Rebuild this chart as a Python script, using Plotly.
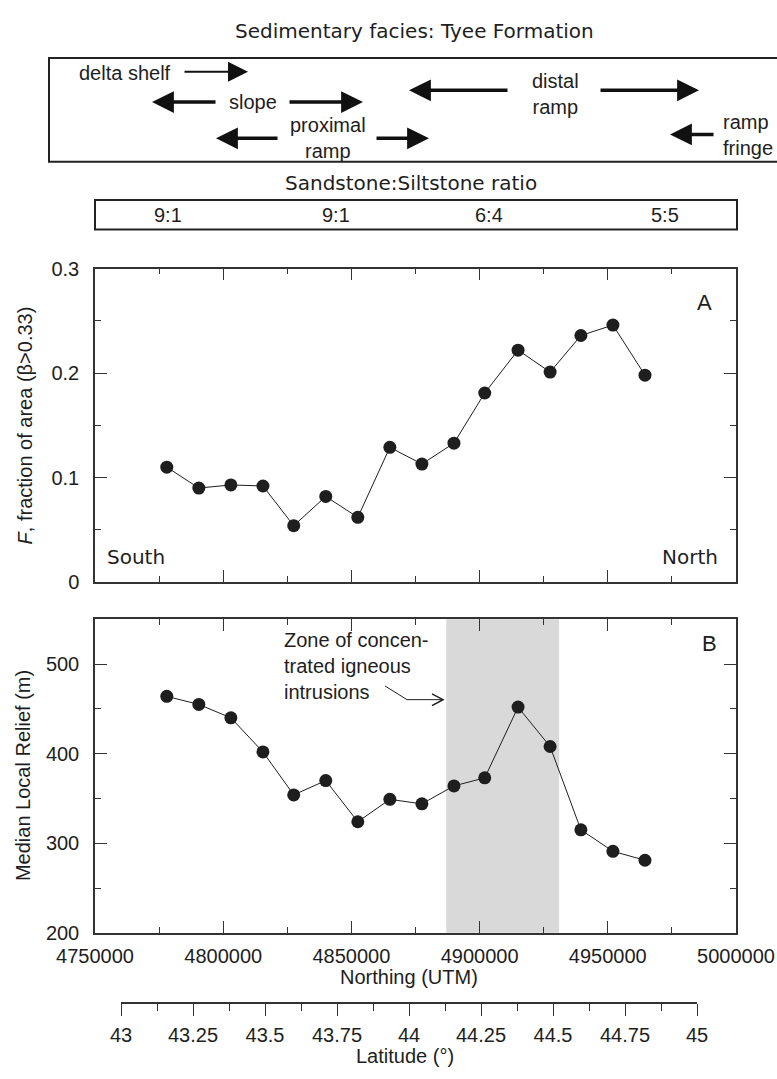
import plotly.graph_objects as go

# ---------------- data ----------------
NORTHING = [4778000, 4790500, 4803000, 4815500, 4827500, 4840000, 4852500, 4865000,
            4877500, 4890000, 4902000, 4915000, 4927500, 4939500, 4952000, 4964500]
F_FRACTION = [0.110, 0.090, 0.093, 0.092, 0.054, 0.082, 0.062, 0.129,
              0.113, 0.133, 0.181, 0.222, 0.201, 0.236, 0.246, 0.198]
RELIEF = [464, 455, 440, 402, 354, 370, 324, 349,
          344, 364, 373, 452, 408, 315, 291, 281]
ZONE = [4887000, 4931000]
X_RANGE = [4750000, 5000000]
X_TICKS = [4750000, 4800000, 4850000, 4900000, 4950000, 5000000]
LAT_RANGE = [43, 45]
LAT_TICKS = [43, 43.25, 43.5, 43.75, 44, 44.25, 44.5, 44.75, 45]
LAT_LABELS = ["43", "43.25", "43.5", "43.75", "44", "44.25", "44.5", "44.75", "45"]
RATIOS = ["9:1", "9:1", "6:4", "5:5"]

W, H = 777, 1079
L, R = 95, 736


def px(x):
    return (x - L) / (R - L)


def py(y):
    return 1 - y / H


FONT = "Liberation Sans, Arial, sans-serif"
WIDE = "DejaVu Sans, sans-serif"
INK = "#1e1e1e"
AX = "#333333"

fig = go.Figure()
fig.add_trace(go.Scatter(x=NORTHING, y=F_FRACTION, mode="lines+markers",
                         line=dict(color=INK, width=1),
                         marker=dict(color=INK, size=13),
                         xaxis="x", yaxis="y", showlegend=False))
fig.add_trace(go.Scatter(x=NORTHING, y=RELIEF, mode="lines+markers",
                         line=dict(color=INK, width=1),
                         marker=dict(color=INK, size=13),
                         xaxis="x2", yaxis="y2", showlegend=False))
fig.add_trace(go.Scatter(x=LAT_RANGE, y=[0, 0], mode="lines", opacity=0,
                         xaxis="x3", yaxis="y3", showlegend=False, hoverinfo="skip"))

common_x = dict(range=X_RANGE, showline=True, linecolor=AX, linewidth=1.5,
                mirror="allticks", ticks="inside", tickcolor=AX, ticklen=12,
                tickwidth=1, tickvals=X_TICKS, tickformat="d", showgrid=False, zeroline=False,
                minor=dict(dtick=25000, ticklen=6, ticks="inside", tickcolor=AX),
                tickfont=dict(family=FONT, size=20, color=INK))
common_y = dict(showline=True, linecolor=AX, linewidth=1.5, mirror="allticks",
                ticks="inside", tickcolor=AX, ticklen=12, tickwidth=1,
                showgrid=False, zeroline=False,
                tickfont=dict(family=FONT, size=20, color=INK), ticklabelstandoff=10)

fig.update_layout(
    width=W, height=H, autosize=False,
    margin=dict(l=L, r=W - R, t=0, b=0),
    paper_bgcolor="white", plot_bgcolor="white",
    xaxis=dict(domain=[0, 1], anchor="y", showticklabels=False, **common_x),
    yaxis=dict(domain=[py(583), py(263)], anchor="x", range=[0, 0.3], dtick=0.1,
               minor=dict(dtick=0.05, ticklen=6, ticks="inside", tickcolor=AX),
               **common_y),
    xaxis2=dict(domain=[0, 1], anchor="y2", showticklabels=True, ticklabelstandoff=4,
                **common_x),
    yaxis2=dict(domain=[py(941), py(621)], anchor="x2", range=[200, 550], dtick=100,
                minor=dict(dtick=50, ticklen=6, ticks="inside", tickcolor=AX),
                **common_y),
    xaxis3=dict(domain=[px(121), px(697)], anchor="y3", range=LAT_RANGE,
                showline=True, linecolor=AX, linewidth=1.5, ticks="outside",
                tickvals=LAT_TICKS, ticktext=LAT_LABELS, ticklen=12, tickcolor=AX,
                minor=dict(dtick=0.125, ticklen=7, ticks="outside", tickcolor=AX),
                showgrid=False, zeroline=False, ticklabelstandoff=2,
                tickfont=dict(family=FONT, size=20, color=INK)),
    yaxis3=dict(domain=[py(1012), py(1011)], anchor="x3", visible=False, range=[0, 1]),
)

shapes = []
# grey zone in panel B
shapes.append(dict(type="rect", xref="x2", yref="y2 domain", x0=ZONE[0], x1=ZONE[1],
                   y0=0, y1=1, fillcolor="#d9d9d9", line=dict(width=0), layer="below"))
# facies box
shapes.append(dict(type="rect", xref="paper", yref="paper", x0=px(49), x1=px(790),
                   y0=py(154), y1=py(48), line=dict(color="#222", width=2)))
# ratio box
shapes.append(dict(type="rect", xref="paper", yref="paper", x0=px(95), x1=px(737),
                   y0=py(223), y1=py(193), line=dict(color="#222", width=2)))
# zone arrow path
shapes.append(dict(type="path", xref="paper", yref="paper",
                   path=f"M {px(385)},{py(689)} L {px(407)},{py(703)} L {px(442)},{py(703)}",
                   line=dict(color=INK, width=1)))
shapes.append(dict(type="path", xref="paper", yref="paper",
                   path=f"M {px(432)},{py(697)} L {px(443)},{py(703)} L {px(432)},{py(709)}",
                   line=dict(color=INK, width=1.5)))
fig.update_layout(shapes=shapes)

ann = []


def text(t, x, y, size=20, family=FONT, xanchor="center", angle=0, align="center"):
    ann.append(dict(text=t, x=px(x), y=py(y), xref="paper", yref="paper",
                    showarrow=False, xanchor=xanchor, yanchor="middle",
                    textangle=angle, align=align,
                    font=dict(family=family, size=size, color=INK)))


def arrow(tail, head, width=3.5, size=1.25):
    ann.append(dict(text="", x=px(head[0]), y=py(head[1]), xref="paper", yref="paper",
                    ax=tail[0] - head[0], ay=tail[1] - head[1], axref="pixel", ayref="pixel",
                    showarrow=True, arrowhead=2, arrowsize=size, arrowwidth=width,
                    arrowcolor="#111", standoff=0, startstandoff=0))


text("Sedimentary facies: Tyee Formation", 414, 20, family=WIDE)
text("delta shelf", 77, 63, xanchor="left")
text("slope", 253, 93)
text("proximal<br>ramp", 328, 130)
text("distal<br>ramp", 555, 85)
text("ramp<br>fringe", 721, 127, xanchor="left", align="left")
arrow((183, 62), (248, 62), width=2, size=2)
arrow((217, 93), (152, 93))
arrow((288, 93), (363, 93))
arrow((279, 130), (216, 130))
arrow((375, 130), (429, 130))
arrow((509, 81), (409, 81))
arrow((599, 81), (699, 81))
arrow((715, 126), (670, 126))

text("Sandstone:Siltstone ratio", 411, 176, family=WIDE)
for lab, xx in zip(RATIOS, [168, 336, 489, 665]):
    text(lab, xx, 208)

text("A", 704, 298, size=22)
text("B", 709, 646, size=22)
text("South", 136, 557, family=WIDE)
text("North", 690, 557, family=WIDE)
text("Zone of concen-<br>trated igneous<br>intrusions", 282, 669, xanchor="left", align="left")

text("<i>F</i>, fraction of area (β&gt;0.33)", 25, 423, angle=-90)
text("Median Local Relief (m)", 23, 781, angle=-90)
text("Northing (UTM)", 409, 986)
text("Latitude (°)", 405, 1067)

fig.update_layout(annotations=ann)
fig.write_html("out.html", config={"displayModeBar": False},
               post_script="document.body.style.margin='0';document.body.style.overflow='hidden';")
